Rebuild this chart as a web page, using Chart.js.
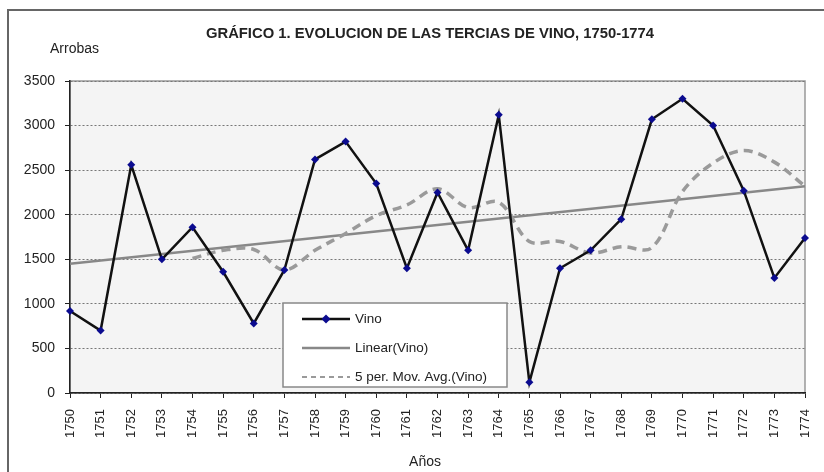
<!DOCTYPE html>
<html>
<head>
<meta charset="utf-8">
<script src="https://cdn.jsdelivr.net/npm/chart.js@4.4.1/dist/chart.umd.min.js"></script>
<style>
  body { margin: 0; background: #fff; }
</style>
</head>
<body>
<canvas id="myChart" width="824" height="472"></canvas>
<script>
// datos
const years = ["1750", "1751", "1752", "1753", "1754", "1755", "1756", "1757", "1758", "1759",
  "1760", "1761", "1762", "1763", "1764", "1765", "1766", "1767", "1768", "1769",
  "1770", "1771", "1772", "1773", "1774"];
const vino = [920, 700, 2560, 1500, 1860, 1360, 780, 1380, 2620, 2820,
  2350, 1400, 2250, 1600, 3120, 120, 1400, 1600, 1950, 3070,
  3300, 3000, 2270, 1290, 1740];
// media movil de 5 periodos (Excel)
const mediaMovil = [null, null, null, null, 1510, 1600, 1610, 1380, 1600, 1790,
  1990, 2110, 2290, 2080, 2140, 1700, 1700, 1570, 1640, 1630,
  2260, 2580, 2720, 2590, 2320];
// linea de tendencia: solo los extremos
const tendencia = [1450, null, null, null, null, null, null, null, null, null,
  null, null, null, null, null, null, null, null, null, null,
  null, null, null, null, 2320];
const yTicks = [0, 500, 1000, 1500, 2000, 2500, 3000, 3500];

const legendItems = ["Vino", "Linear(Vino)", "5 per. Mov. Avg.(Vino)"];

const FONT = "'Liberation Sans', Arial, sans-serif";

// fondo del area, marco, textos y leyenda
const extras = {
  id: "extras",
  beforeDraw(chart) {
    const { ctx, chartArea: ca } = chart;
    ctx.save();
    ctx.fillStyle = "#f4f4f4";
    ctx.fillRect(ca.left, ca.top, ca.right - ca.left, ca.bottom - ca.top);
    ctx.strokeStyle = "#999";
    ctx.lineWidth = 1.5;
    ctx.strokeRect(ca.left, ca.top, ca.right - ca.left, ca.bottom - ca.top);
    // marco exterior
    ctx.strokeStyle = "#666";
    ctx.lineWidth = 2;
    ctx.beginPath();
    ctx.moveTo(8, 472);
    ctx.lineTo(8, 10);
    ctx.lineTo(824, 10);
    ctx.stroke();
    ctx.fillStyle = "#222";
    ctx.textBaseline = "middle";
    ctx.font = "bold 14.8px " + FONT;
    ctx.textAlign = "center";
    ctx.fillText("GRÁFICO 1. EVOLUCION DE LAS TERCIAS DE VINO, 1750-1774", 430, 34);
    ctx.font = "14px " + FONT;
    ctx.textAlign = "left";
    ctx.fillText("Arrobas", 50, 49);
    ctx.textAlign = "center";
    ctx.fillText("Años", 425, 462);
    ctx.restore();
  },
  afterDraw(chart) {
    const { ctx, chartArea: ca } = chart;
    const x0 = ca.left + 213;
    const y0 = ca.top + 222;
    ctx.save();
    ctx.fillStyle = "#fff";
    ctx.fillRect(x0, y0, 224, 84);
    ctx.strokeStyle = "#888";
    ctx.lineWidth = 1.5;
    ctx.strokeRect(x0, y0, 224, 84);
    const ds = chart.data.datasets;
    legendItems.forEach((txt, i) => {
      const y = y0 + 16 + i * 29;
      const d = ds[i];
      ctx.strokeStyle = d.borderColor;
      ctx.lineWidth = i == 2 ? 2 : d.borderWidth;
      ctx.setLineDash(i == 2 ? [5, 4] : []);
      ctx.beginPath();
      ctx.moveTo(x0 + 19, y);
      ctx.lineTo(x0 + 67, y);
      ctx.stroke();
      ctx.setLineDash([]);
      if (i == 0) {
        ctx.fillStyle = d.pointBackgroundColor;
        ctx.beginPath();
        ctx.moveTo(x0 + 43, y - 4.5);
        ctx.lineTo(x0 + 47.5, y);
        ctx.lineTo(x0 + 43, y + 4.5);
        ctx.lineTo(x0 + 38.5, y);
        ctx.closePath();
        ctx.fill();
      }
      ctx.fillStyle = "#222";
      ctx.font = "13.5px " + FONT;
      ctx.textAlign = "left";
      ctx.textBaseline = "middle";
      ctx.fillText(txt, x0 + 72, y);
    });
    ctx.restore();
  },
};

var ctx = document.getElementById("myChart");
var myChart = new Chart(ctx, {
  type: "line",
  data: {
    labels: years,
    datasets: [
      {
        label: "Vino",
        data: vino,
        borderColor: "#111",
        borderWidth: 2.5,
        pointStyle: "rectRot",
        pointRadius: 4,
        pointBackgroundColor: "#0b0b8f",
        pointBorderColor: "#0b0b8f",
        pointBorderWidth: 0,
        tension: 0,
        order: 1,
      },
      {
        label: "Linear(Vino)",
        data: tendencia,
        borderColor: "#888",
        borderWidth: 2.5,
        pointRadius: 0,
        spanGaps: true,
        order: 3,
      },
      {
        label: "5 per. Mov. Avg.(Vino)",
        data: mediaMovil,
        borderColor: "#9a9a9a",
        borderWidth: 3.5,
        borderDash: [9, 6],
        pointRadius: 0,
        tension: 0.35,
        order: 2,
      },
    ],
  },
  options: {
    responsive: false,
    animation: false,
    devicePixelRatio: 1,
    layout: { padding: { top: 81, right: 19, left: 0, bottom: 0 } },
    plugins: {
      legend: { display: false },
      tooltip: { enabled: false },
    },
    scales: {
      x: {
        offset: false,
        afterFit: (s) => {
          s.height = 79;
          s.paddingLeft = 0;
          s.paddingRight = 0;
        },
        grid: {
          drawOnChartArea: false,
          drawTicks: true,
          tickLength: 5,
          tickColor: "#222",
          color: "#222",
        },
        border: { color: "#222", width: 1.5 },
        ticks: {
          autoSkip: false,
          maxRotation: 90,
          minRotation: 90,
          padding: 11,
          color: "#222",
          font: { family: FONT, size: 13 },
        },
      },
      y: {
        min: 0,
        max: 3500,
        afterFit: (s) => { s.width = 70; },
        afterBuildTicks: (s) => { s.ticks = yTicks.map((v) => ({ value: v })); },
        grid: {
          color: "#777",
          lineWidth: 1,
          tickLength: 5,
          tickColor: "#222",
        },
        border: { color: "#222", width: 1.5, dash: [2, 2] },
        ticks: {
          padding: 10,
          color: "#222",
          font: { family: FONT, size: 14 },
          callback: (v) => String(v),
        },
      },
    },
  },
  plugins: [extras],
});
</script>
</body>
</html>
